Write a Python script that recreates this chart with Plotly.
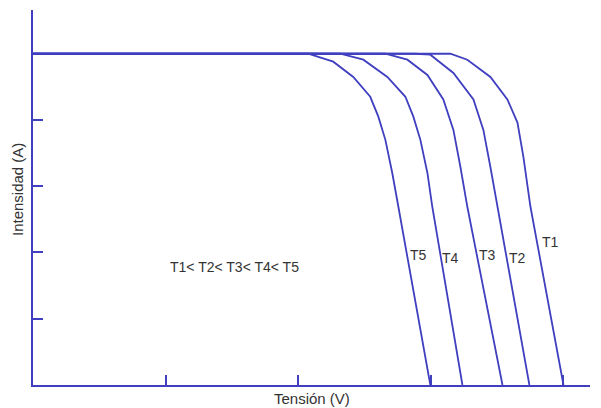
import plotly.graph_objects as go

# curve points (tension V, intensidad A, arbitrary units)
t1_v = [0, 3.147, 3.275, 3.449, 3.577, 3.653, 3.698, 3.751, 4.0]
t1_i = [5, 5, 4.91, 4.65, 4.31, 3.96, 3.44, 2.69, 0]
t2_v = [0, 2.883, 2.996, 3.170, 3.321, 3.396, 3.449, 3.502, 3.743]
t2_i = [5, 5, 4.985, 4.71, 4.31, 3.85, 3.29, 2.69, 0]
t3_v = [0, 2.657, 2.823, 2.974, 3.094, 3.170, 3.223, 3.275, 3.540]
t3_i = [5, 5, 4.91, 4.68, 4.31, 3.85, 3.29, 2.69, 0]
t4_v = [0, 2.317, 2.491, 2.672, 2.808, 2.868, 2.921, 2.974, 3.011, 3.238]
t4_i = [5, 5, 4.91, 4.65, 4.35, 4.05, 3.70, 3.20, 2.69, 0]
t5_v = [0, 2.075, 2.264, 2.415, 2.543, 2.604, 2.657, 2.709, 2.755, 2.996]
t5_i = [5, 5, 4.88, 4.65, 4.35, 4.05, 3.70, 3.20, 2.69, 0]

curve_names = ['T1', 'T2', 'T3', 'T4', 'T5']
label_v = [3.90, 3.65, 3.43, 3.15, 2.91]
label_i = [2.16, 1.92, 1.96, 1.92, 1.96]

blue = '#3f3fbf'
grey = '#333333'
narrow = 'Liberation Sans Narrow, Liberation Sans'

fig = go.Figure()
for name, v, i in zip(curve_names, [t1_v, t2_v, t3_v, t4_v, t5_v], [t1_i, t2_i, t3_i, t4_i, t5_i]):
    fig.add_trace(go.Scatter(x=v, y=i, mode='lines', name=name,
                             line=dict(color=blue, width=1.8), showlegend=False))

for name, v, i in zip(curve_names, label_v, label_i):
    fig.add_annotation(x=v, y=i, text=name, showarrow=False,
                       font=dict(family=narrow, size=14, color=grey))

fig.add_annotation(x=1.52, y=1.78, text='T1< T2< T3< T4< T5', showarrow=False,
                   font=dict(family=narrow, size=14, color=grey))
fig.add_annotation(x=0.5, xref='paper', y=-0.008, yref='paper', yanchor='top', text='Tensión (V)',
                   showarrow=False, font=dict(family=narrow, size=15, color=grey))
fig.add_annotation(x=-0.0287, xref='paper', xanchor='center', y=0.52, yref='paper',
                   text='Intensidad (A)', textangle=-90, showarrow=False,
                   font=dict(family=narrow, size=15, color=grey))

fig.update_xaxes(range=[0, 4.2], showgrid=False, zeroline=False, showline=True, linecolor=blue,
                 linewidth=2, ticks='inside', ticklen=10, tickwidth=2, tickcolor=blue,
                 tickvals=[1, 2, 3, 4], showticklabels=False)
fig.update_yaxes(range=[0, 5.66], showgrid=False, zeroline=False, showline=True, linecolor=blue,
                 linewidth=2, ticks='inside', ticklen=10, tickwidth=2, tickcolor=blue,
                 tickvals=[1, 2, 3, 4], showticklabels=False)
# the page body adds an 8px offset, so the figure is a bit smaller than the window
fig.update_layout(width=593, height=400, margin=dict(l=25, r=11, t=2, b=23),
                  plot_bgcolor='white', paper_bgcolor='white')
fig.write_html("out.html")
